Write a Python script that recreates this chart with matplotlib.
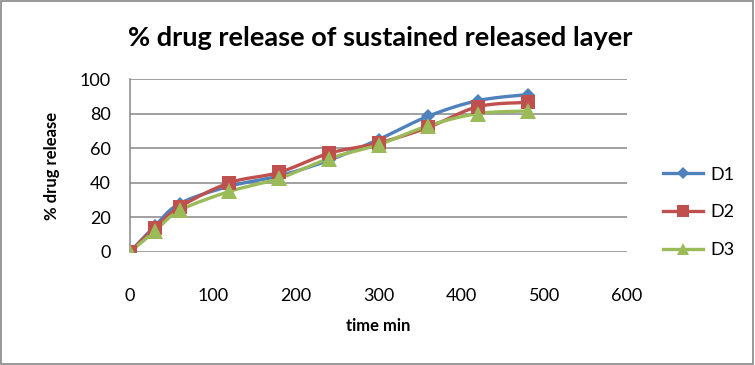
import numpy as np
import matplotlib
matplotlib.use("Agg")
import matplotlib.pyplot as plt
from matplotlib.patches import Rectangle

plt.rcParams['font.family'] = ['Lato', 'DejaVu Sans']

time_min = [0, 30, 60, 120, 180, 240, 300, 360, 420, 480]
d1 = [0, 15, 28, 38, 44, 53, 65, 78.5, 87.5, 91]
d2 = [0, 14, 26, 40, 46, 57, 63, 72, 84, 86.5]
d3 = [0, 12, 24, 35, 42.5, 54, 62, 73, 80, 81.5]
series_names = ['D1', 'D2', 'D3']
x_ticks = [0, 100, 200, 300, 400, 500, 600]
y_ticks = [0, 20, 40, 60, 80, 100]

colors = ['#4F81BD', '#C0504D', '#9BBB59']
markers = ['D', 's', '^']
msizes = [7.5, 10.5, 11]


def smooth(x, y, xs=600.0, ys=100.0, n=20, tension=0.5):
    p = np.column_stack([np.asarray(x, float) / xs, np.asarray(y, float) / ys * 0.35])
    out = [p[0]]
    for i in range(len(p) - 1):
        p0 = p[i - 1] if i > 0 else p[i]
        p1, p2 = p[i], p[i + 1]
        p3 = p[i + 2] if i + 2 < len(p) else p[i + 1]
        m1 = (p2 - p0) * tension
        m2 = (p3 - p1) * tension
        t = np.linspace(0, 1, n)[1:, None]
        h00 = 2 * t**3 - 3 * t**2 + 1
        h10 = t**3 - 2 * t**2 + t
        h01 = -2 * t**3 + 3 * t**2
        h11 = t**3 - t**2
        seg = h00 * p1 + h10 * m1 + h01 * p2 + h11 * m2
        out.extend(seg)
    out = np.array(out)
    return out[:, 0] * xs, out[:, 1] / 0.35 * ys


fig = plt.figure(figsize=(7.55, 3.65), dpi=100)
fig.patches.append(Rectangle((0.001, 0.002), 0.997, 0.995, transform=fig.transFigure,
                             fill=False, edgecolor='#868686', linewidth=1.2))
ax = fig.add_axes([130 / 755, 1 - 252 / 365, (627 - 130) / 755, (252 - 79) / 365])

for name, vals, c, m, ms in zip(series_names, [d1, d2, d3], colors, markers, msizes):
    sx, sy = smooth(time_min, vals)
    ax.plot(sx, sy, color=c, linewidth=2.4, solid_capstyle='round', zorder=3)
    ax.plot(time_min, vals, linestyle='none', marker=m, markersize=ms, color=c, zorder=4,
            markeredgewidth=0)
    ax.plot([], [], color=c, linewidth=2.4, marker=m, markersize=ms * 0.8,
            markeredgewidth=0, label=name)

ax.set_xlim(0, 600)
ax.set_ylim(0, 100)
ax.set_xticks(x_ticks)
ax.set_yticks(y_ticks)
ax.grid(axis='y', color='#868686', linewidth=1.1)
ax.set_axisbelow(True)
for s in ['top', 'right', 'bottom']:
    ax.spines[s].set_visible(False)
ax.spines['left'].set_color('#868686')
ax.spines['left'].set_linewidth(1.1)
ax.tick_params(axis='both', length=0, labelsize=13)
ax.tick_params(axis='x', pad=26)
ax.tick_params(axis='y', pad=14)
for lab in ax.get_xticklabels() + ax.get_yticklabels():
    lab.set_clip_on(False)

ax.set_xlabel('time min', fontsize=12, fontweight='bold', labelpad=10)
ax.set_ylabel('% drug release', fontsize=12, fontweight='bold', labelpad=14)
fig.text(380 / 755, 1 - 38 / 365, '% drug release of sustained released layer',
         ha='center', va='center', fontsize=19.5, fontweight='bold')

leg = ax.legend(loc='center left', bbox_to_anchor=(1.04, 0.23), frameon=False, fontsize=13,
                handlelength=2.2, labelspacing=1.2, handletextpad=0.4)

fig.savefig('out.png', dpi=100)
